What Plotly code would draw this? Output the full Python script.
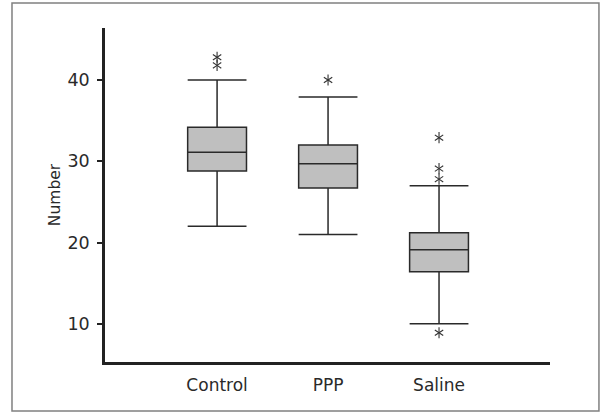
import plotly.graph_objects as go

groups = ["Control", "PPP", "Saline"]
q1 = [28.8, 26.7, 16.4]
median = [31.1, 29.7, 19.1]
q3 = [34.2, 32.0, 21.2]
lower_whisker = [22.0, 21.0, 10.0]
upper_whisker = [40.0, 37.9, 27.0]
outlier_groups = ["Control", "Control", "PPP", "Saline", "Saline", "Saline", "Saline"]
outlier_values = [42.8, 41.8, 40.0, 32.9, 29.1, 27.8, 8.9]
y_ticks = [10, 20, 30, 40]

fig = go.Figure()
for i, g in enumerate(groups):
    fig.add_trace(go.Box(
        x=[g], q1=[q1[i]], median=[median[i]], q3=[q3[i]],
        lowerfence=[lower_whisker[i]], upperfence=[upper_whisker[i]],
        width=0.53, whiskerwidth=1,
        fillcolor="#bfbfbf", line=dict(color="#2a2a2a", width=1.5),
        boxpoints=False, showlegend=False, hoverinfo="skip",
    ))

# six-armed asterisks: overlay of y-up and y-down symbols
for sym in ["y-up-open", "y-down-open"]:
    fig.add_trace(go.Scatter(
        x=outlier_groups, y=outlier_values, mode="markers",
        marker=dict(symbol=sym, size=7, color="#333",
                    line=dict(color="#333", width=1.1)),
        showlegend=False, hoverinfo="skip",
    ))

font = "DejaVu Sans, Verdana, sans-serif"
fig.update_layout(
    width=600, height=413,
    margin=dict(l=105, r=50, t=28, b=51),
    paper_bgcolor="white", plot_bgcolor="white",
    font=dict(family=font, color="#222"),
    xaxis=dict(
        type="category", categoryorder="array", categoryarray=groups,
        range=[-1.01, 3.0], showline=True, linecolor="#222", linewidth=2.5,
        ticks="", showgrid=False, zeroline=False,
        tickfont=dict(size=17, family=font, color="#2a2a2a"),
        ticklabelstandoff=6,
    ),
    yaxis=dict(
        range=[5.3, 46.4], tickvals=y_ticks, showline=True, linecolor="#222",
        linewidth=2.5, ticks="outside", ticklen=5, tickwidth=1.5, tickcolor="#222",
        showgrid=False, zeroline=False, automargin=False,
        tickfont=dict(size=17.5, family=font, color="#2a2a2a"),
        ticklabelstandoff=4,
        title=dict(text="Number", font=dict(size=15.5, family=font, color="#2a2a2a"), standoff=4),
    ),
    shapes=[dict(type="rect", xref="paper", yref="paper",
                 x0=-0.209, x1=1.110, y0=-0.147, y1=1.075,
                 line=dict(color="#808080", width=1.5), fillcolor="rgba(0,0,0,0)", layer="below")],
)

fig.write_html("out.html", config={"displayModeBar": False},
               post_script="document.body.style.margin='0';")
